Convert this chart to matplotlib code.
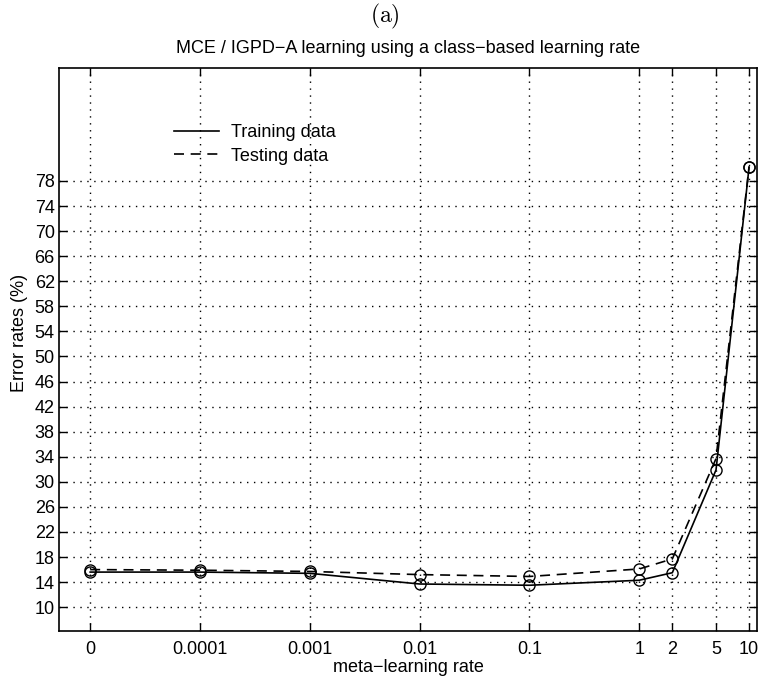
import numpy as np
import matplotlib
matplotlib.use("Agg")
import matplotlib.pyplot as plt

plt.rcParams['font.family'] = ['Liberation Sans', 'DejaVu Sans']
plt.rcParams['mathtext.fontset'] = 'cm'

rates = [0, 0.0001, 0.001, 0.01, 0.1, 1, 2, 5, 10]
tick_labels = ['0', '0.0001', '0.001', '0.01', '0.1', '1', '2', '5', '10']
train = [15.6, 15.6, 15.4, 13.7, 13.5, 14.3, 15.5, 31.9, 80.2]
test = [16.0, 15.9, 15.7, 15.2, 14.9, 16.1, 17.7, 33.7, 80.3]
yticks = list(range(10, 79, 4))

# zero rate is placed one decade below 0.0001 on the log axis
xpos = np.array([r if r > 0 else 1e-5 for r in rates])

fig = plt.figure(figsize=(7.62, 6.81), dpi=100)
ax = fig.add_axes([0.0774, 0.0734, 0.9160, 0.8266])
ax.set_xscale('log')

ax.plot(xpos, train, '-', color='black', lw=1.2, label='Training data')
ax.plot(xpos, test, '--', color='black', lw=1.2, dashes=(6, 4), label='Testing data')
ax.plot(xpos, train, 'o', mfc='none', mec='black', ms=8, mew=1.0)
ax.plot(xpos, test, 'o', mfc='none', mec='black', ms=8, mew=1.0)

ax.set_xlim(5.2e-6, 11.8)
ax.set_ylim(6.2, 96)
ax.set_xticks(xpos)
ax.set_xticklabels(tick_labels)
ax.xaxis.set_minor_locator(matplotlib.ticker.NullLocator())
ax.set_yticks(yticks)
ax.tick_params(axis='both', direction='in', length=6, width=1, top=True, right=True,
               labelsize=13, pad=7)
ax.tick_params(axis='y', pad=3)
ax.grid(True, linestyle=(0, (1, 4)), color='black', lw=1.0)
for s in ax.spines.values():
    s.set_linewidth(1.2)

ax.set_xlabel('meta\u2212learning rate', fontsize=13, labelpad=1)
ax.set_ylabel('Error rates (%)', fontsize=13)
ax.yaxis.set_label_coords(-0.044, 0.53)
ax.set_title('MCE / IGPD\u2212A learning using a class\u2212based learning rate',
             fontsize=13, pad=11)
fig.text(0.505, 0.976, r'$\mathrm{(a)}$', ha='center', va='center', fontsize=17)

leg = ax.legend(loc='upper left', bbox_to_anchor=(0.165, 0.90), frameon=False,
                fontsize=13, handlelength=2.5, handletextpad=0.67, labelspacing=0.35,
                borderpad=0, borderaxespad=0)

fig.savefig('out.png', dpi=100)
